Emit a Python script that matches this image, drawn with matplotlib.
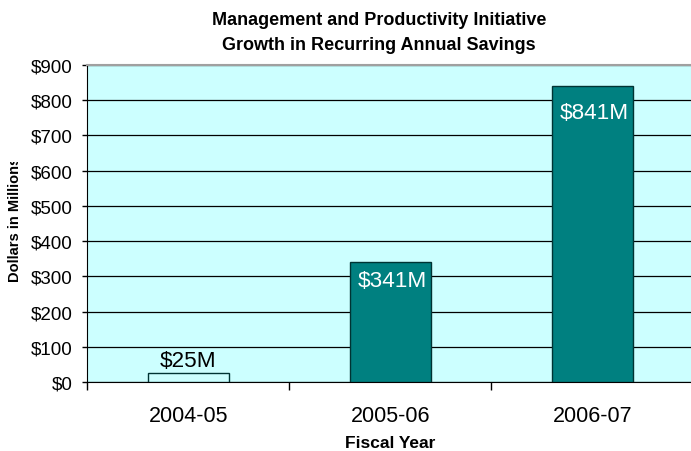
import matplotlib
matplotlib.use("Agg")
import matplotlib.pyplot as plt
from matplotlib.ticker import FixedLocator
from matplotlib.transforms import Bbox

plt.rcParams['font.family'] = ['Liberation Sans', 'DejaVu Sans']

categories = ["2004-05", "2005-06", "2006-07"]
values = [25, 341, 841]
labels = ["$25M", "$341M", "$841M"]
bar_colors = ["#CCFFFF", "#008080", "#008080"]
label_colors = ["black", "white", "white"]
yticks = list(range(0, 1000, 100))
ytick_labels = [f"${v}" for v in yticks]

W, H = 691, 452
fig = plt.figure(figsize=(W/100, H/100), dpi=100)
ax = fig.add_axes([87.3/W, 1-383.3/H, 606/W, (383.3-65.7)/H])
ax.set_facecolor("#CCFFFF")

x = list(range(len(categories)))
ax.bar(x, values, width=0.40, color=bar_colors, edgecolor="#003333", linewidth=1.0, zorder=3)

ax.set_xlim(-0.5, 2.5)
ax.set_ylim(0, 900)
ax.set_yticks(yticks)
ax.set_yticklabels(ytick_labels, fontsize=13.5)
ax.yaxis.grid(True, color="black", linewidth=0.9, zorder=1)
ax.set_axisbelow(True)

ax.set_xticks(x)
ax.set_xticklabels(categories, fontsize=15.5)
ax.xaxis.set_minor_locator(FixedLocator([-0.5, 0.5, 1.5, 2.5]))
ax.tick_params(axis='x', which='major', length=0, pad=16)
ax.tick_params(axis='x', which='minor', length=6, width=1, color="black")
ax.tick_params(axis='y', length=3.6, width=1, pad=7)

ax.spines["right"].set_visible(False)
ax.spines["top"].set_color("#A0A0A0")
ax.spines["top"].set_linewidth(1.5)
ax.spines["left"].set_color("black")
ax.spines["bottom"].set_color("black")

# label offsets in points (style)
offsets = [2, -6, -12]
for xi, v, lab, c, off in zip(x, values, labels, label_colors, offsets):
    ax.annotate(lab, (xi, v), xytext=(1.5 if off < 0 else 0, off), textcoords="offset points",
                ha="center", va="bottom" if off > 0 else "top",
                fontsize=16.2, color=c, zorder=4)

ax.set_xlabel("Fiscal Year", fontsize=12.5, fontweight="bold", labelpad=7)

yl = fig.text(15/W, 1-282/H, "Dollars in Millions", rotation=90, ha="center", va="bottom",
              fontsize=10.5, fontweight="bold")
yl.set_clip_box(Bbox([[0, 0], [W, H-163]]))
yl.set_clip_on(True)

fig.text(379/W, 1-25/H, "Management and Productivity Initiative",
         ha="center", va="baseline", fontsize=13, fontweight="bold")
fig.text(379/W, 1-50/H, "Growth in Recurring Annual Savings",
         ha="center", va="baseline", fontsize=13, fontweight="bold")

fig.savefig("out.png", dpi=100)
